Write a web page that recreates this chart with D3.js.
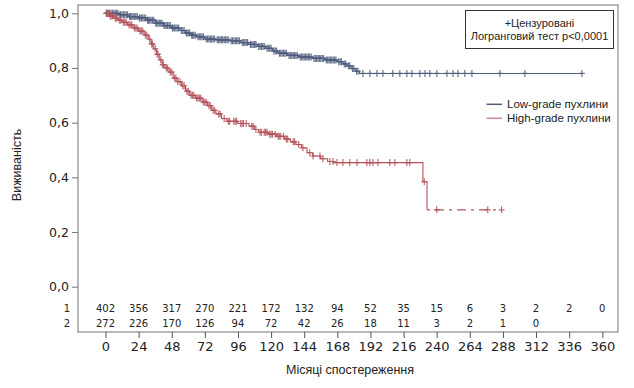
<!DOCTYPE html>
<html>
<head>
<meta charset="utf-8">
<script src="https://cdn.jsdelivr.net/npm/d3@7"></script>
<style>
  body { margin: 0; background: #fff; }
  svg { display: block; }
</style>
</head>
<body>
<svg width="634" height="388"></svg>
<script>
// Time axis (months) and numbers at risk
const xTicks = [0, 24, 48, 72, 96, 120, 144, 168, 192, 216, 240, 264, 288, 312, 336, 360];
const yTicks = [0, 0.2, 0.4, 0.6, 0.8, 1.0];
const riskLow = [402, 356, 317, 270, 221, 172, 132, 94, 52, 35, 15, 6, 3, 2, 2, 0];
const riskHigh = [272, 226, 170, 126, 94, 72, 42, 26, 18, 11, 3, 2, 1, 0, null, null];

// Low-grade: step times and survival
const lowTime = [0, 10, 17, 24, 30, 36, 42, 48, 54, 58, 62, 66, 72, 80, 90, 98, 104, 110, 116, 121, 125, 132, 140, 150, 159, 168, 172, 175, 178, 181, 184];
const lowSurv = [1.0, 0.995, 0.988, 0.983, 0.975, 0.964, 0.955, 0.946, 0.937, 0.928, 0.92, 0.914, 0.906, 0.903, 0.9, 0.893, 0.886, 0.879, 0.872, 0.862, 0.854, 0.846, 0.84, 0.835, 0.829, 0.823, 0.815, 0.808, 0.798, 0.788, 0.78];
const lowEnd = 346;
const lowCensor = [0.5, 1, 2, 3, 4, 5, 6, 7, 8, 9, 10.5, 11, 12, 13, 14, 15, 16, 17.5, 18, 19, 20, 21, 22, 23, 24.5, 25, 26, 27, 28, 29, 30.5, 31, 32, 33, 34, 35, 36.5, 37, 38, 39, 40, 41, 42.5, 43, 44, 45, 46, 47, 48.5, 49, 50, 51, 52, 53, 55, 56, 57, 58.5, 59, 60, 61, 62.5, 63, 64, 65, 67, 68, 69, 70, 71, 73, 74, 75, 76, 77, 78, 79, 81, 82, 83, 84, 85, 86, 87, 88, 89, 91, 92, 93, 94, 95, 96, 97, 99, 100, 101, 102, 103, 105, 106, 107, 108, 109, 111, 112, 113, 114, 115, 117, 118, 119, 120, 122, 123, 124, 126, 127, 128, 129, 130, 131, 133, 134, 135, 136, 137, 138, 139, 141, 142, 143, 144, 145, 146, 147, 148, 149, 151, 152, 153, 154, 155, 156, 157, 158, 160, 161, 162, 163, 164, 165, 166, 167, 169, 170, 171, 173, 174, 176, 177, 179, 180, 182, 183,
  186.5, 191.6, 196.7, 201, 208.2, 213.3, 218.4, 222, 227.8, 231.5, 235, 240.1, 247.4, 251.8, 255.4, 260.4, 265.5, 285.8, 303.9, 345.2];

// High-grade: step times and survival
const highTime = [0, 3, 6, 9, 12, 16, 20, 24, 28, 31, 33, 35, 37, 39, 41, 43, 46, 49, 52, 55, 58, 61, 65, 70, 74, 77, 80, 84, 88, 96, 104, 108, 111, 118, 124, 130, 134, 138, 142, 146, 150, 156, 161, 165, 230, 233];
const highSurv = [1.0, 0.99, 0.982, 0.975, 0.967, 0.958, 0.946, 0.935, 0.92, 0.905, 0.888, 0.87, 0.85, 0.83, 0.812, 0.8, 0.785, 0.763, 0.75, 0.735, 0.715, 0.7, 0.69, 0.675, 0.662, 0.645, 0.632, 0.615, 0.605, 0.597, 0.587, 0.575, 0.565, 0.558, 0.55, 0.54, 0.53, 0.52, 0.508, 0.49, 0.478, 0.468, 0.458, 0.454, 0.384, 0.281];
const highEnd = 287;
const highCensor = [1, 2, 3.5, 4, 5, 7, 8, 10, 11, 13, 14, 15, 17, 18, 19, 21, 22, 23, 25, 26, 27, 29, 30, 32, 33.5, 34, 36, 37.5, 38, 40, 41.5, 42, 44, 45, 47, 48, 50, 51, 52.5, 54, 56, 57, 59, 60, 62, 63, 64, 66, 67, 68, 69, 71, 72, 73, 75, 76, 78, 79, 82, 83, 86, 89, 90, 93, 94, 95, 98, 99, 100, 102, 106, 107, 109, 112, 113, 115, 116, 117, 119, 120, 121, 123, 125, 126, 127, 129, 131, 132, 136, 137, 140, 143, 148, 150.5, 155.4, 157.6, 162.6, 164.8, 167.7, 172, 177, 182.2, 189.4, 191.6, 193.8, 197.4, 206, 209.7, 218.4, 220.5, 231, 240, 277, 287];

const lowColor = "#4f5d7c";
const highColor = "#b4535c";
const tickFont = "DejaVu Sans";
const textFont = "Liberation Sans";

const svg = d3.select("svg");

// scales
const x = d3.scaleLinear().domain([0, 360]).range([105.5, 602.3]);
const y = d3.scaleLinear().domain([0, 1]).range([286.7, 13.3]);

const frame = { left: 78, right: 618, top: 5, bottom: 332 };

// plot frame
svg.append("rect")
    .attr("x", frame.left)
    .attr("y", frame.top)
    .attr("width", frame.right - frame.left)
    .attr("height", frame.bottom - frame.top)
    .attr("fill", "none")
    .attr("stroke", "#8a8a8a")
    .attr("stroke-width", 1.2);

// y axis ticks
const yAxis = svg.append("g").attr("transform", `translate(${frame.left},0)`)
    .call(d3.axisLeft(y).tickValues(yTicks).tickSize(6).tickFormat(d => d3.format(".1f")(d).replace(".", ",")));
yAxis.select(".domain").remove();
yAxis.selectAll("line").attr("stroke", "#777");
yAxis.selectAll("text").attr("font-family", tickFont).attr("font-size", 12.5).attr("fill", "#222").attr("x", -9);

// x axis ticks
const xAxis = svg.append("g").attr("transform", `translate(0,${frame.bottom})`)
    .call(d3.axisBottom(x).tickValues(xTicks).tickSize(6).tickFormat(d3.format("d")));
xAxis.select(".domain").remove();
xAxis.selectAll("line").attr("stroke", "#555");
xAxis.selectAll("text").attr("font-family", tickFont).attr("font-size", 13).attr("fill", "#222").attr("y", 10);

// axis titles
svg.append("text")
    .attr("x", 350).attr("y", 374)
    .attr("text-anchor", "middle")
    .attr("font-family", textFont).attr("font-size", 12.5).attr("fill", "#222")
    .text("Місяці спостереження");

svg.append("text")
    .attr("transform", "translate(21,165) rotate(-90)")
    .attr("text-anchor", "middle")
    .attr("font-family", textFont).attr("font-size", 12.5).attr("fill", "#222")
    .text("Виживаність");

// numbers at risk
const riskRows = [{ label: "1", vals: riskLow, y: 311.5 }, { label: "2", vals: riskHigh, y: 326.5 }];
riskRows.forEach(r => {
    svg.append("text")
        .attr("x", 70).attr("y", r.y)
        .attr("text-anchor", "end")
        .attr("font-family", tickFont).attr("font-size", 10).attr("fill", "#222")
        .text(r.label);
    svg.append("g").selectAll("text")
        .data(xTicks.map((t, i) => ({ t, v: r.vals[i] })).filter(d => d.v !== null))
        .join("text")
        .attr("x", d => x(d.t)).attr("y", r.y)
        .attr("text-anchor", "middle")
        .attr("font-family", tickFont).attr("font-size", 10).attr("fill", "#222")
        .text(d => d.v);
});

// survival value at time t (step lookup)
function survAt(times, surv, t) {
    let s = surv[0];
    for (let i = 0; i < times.length; i++) if (times[i] <= t) s = surv[i];
    return s;
}

const stepLine = d3.line().x(d => x(d[0])).y(d => y(d[1])).curve(d3.curveStepAfter);

function drawCurve(times, surv, end, censor, color, dashTail) {
    const g = svg.append("g");
    let pts = times.map((t, i) => [t, surv[i]]);
    if (dashTail) {
        g.append("path").attr("d", stepLine(pts))
            .attr("fill", "none").attr("stroke", color).attr("stroke-width", 1.1);
        const last = pts[pts.length - 1];
        g.append("path").attr("d", stepLine([last, [end, last[1]]]))
            .attr("fill", "none").attr("stroke", color).attr("stroke-width", 1.1)
            .attr("stroke-dasharray", "3,5,9,5");
    } else {
        pts.push([end, surv[surv.length - 1]]);
        g.append("path").attr("d", stepLine(pts))
            .attr("fill", "none").attr("stroke", color).attr("stroke-width", 1.1);
    }
    // censor marks
    g.selectAll(".cens")
        .data(censor)
        .join("path")
        .attr("class", "cens")
        .attr("transform", d => `translate(${x(d)},${y(survAt(times, surv, d))})`)
        .attr("d", "M-3,0H3M0,-3.5V3.5")
        .attr("fill", "none")
        .attr("stroke", color)
        .attr("stroke-opacity", 0.85)
        .attr("stroke-width", 1.2);
}

drawCurve(lowTime, lowSurv, lowEnd, lowCensor, lowColor, false);
drawCurve(highTime, highSurv, highEnd, highCensor, highColor, true);

// legend box
svg.append("rect")
    .attr("x", 465.5).attr("y", 10.5)
    .attr("width", 148).attr("height", 38)
    .attr("fill", "#fff").attr("stroke", "#333").attr("stroke-width", 1);
svg.append("text")
    .attr("x", 539.5).attr("y", 27)
    .attr("text-anchor", "middle")
    .attr("font-family", textFont).attr("font-size", 11).attr("fill", "#222")
    .text("+Цензуровані");
svg.append("text")
    .attr("x", 539.5).attr("y", 40)
    .attr("text-anchor", "middle")
    .attr("font-family", textFont).attr("font-size", 11).attr("fill", "#222")
    .text("Логранговий тест p<0,0001");

// series legend
const legendItems = [
    { name: "Low-grade пухлини", color: lowColor, y: 104.3 },
    { name: "High-grade пухлини", color: "#cf8891", y: 118.3 }
];
legendItems.forEach(d => {
    svg.append("line")
        .attr("x1", 486.5).attr("x2", 502)
        .attr("y1", d.y).attr("y2", d.y)
        .attr("stroke", d.color).attr("stroke-width", 1.5);
    svg.append("text")
        .attr("x", 507).attr("y", d.y + 4)
        .attr("font-family", textFont).attr("font-size", 11.5).attr("fill", "#222")
        .text(d.name);
});
</script>
</body>
</html>
